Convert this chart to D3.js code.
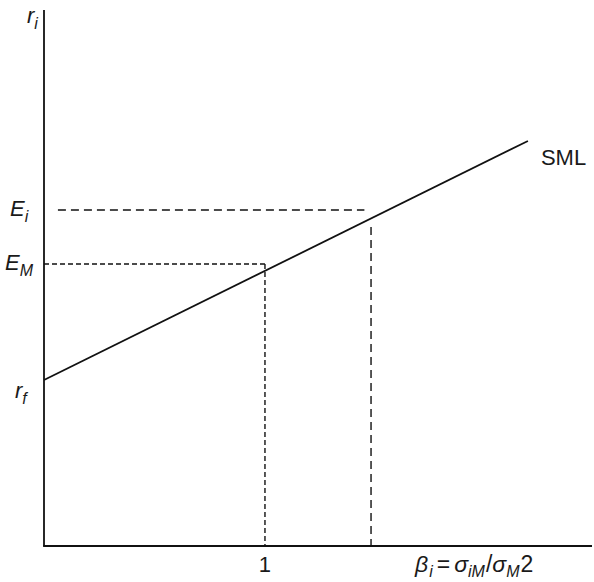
<!DOCTYPE html>
<html>
<head>
<meta charset="utf-8">
<script src="https://cdn.jsdelivr.net/npm/d3@7"></script>
<style>
  html, body { margin: 0; padding: 0; background: #fff; }
  svg text { font-family: "Liberation Sans", Arial, sans-serif; fill: #1a1a1a; }
</style>
</head>
<body>
<svg id="chart" width="594" height="582"></svg>
<script>
// Data (beta on x, expected return on y, arbitrary units)
const xDomain = [0, 2.48];
const yDomain = [0, 5.36];
const smlBeta = [0, 2.19];
const smlReturn = [1.66, 4.05];
const betaM = 1, returnM = 2.82;
const betaI = 1.48, returnI = 3.36;
const returnIVertTop = 3.19;
const returnIHorizStart = 0.063, returnIHorizEnd = 1.45;
const xTickLabels = ["1"];

const svg = d3.select("#chart");
const x = d3.scaleLinear().domain(xDomain).range([44, 592]);
const y = d3.scaleLinear().domain(yDomain).range([546, 10]);

// axes
svg.append("line").attr("x1", x(0)).attr("x2", x(0)).attr("y1", y(yDomain[1])).attr("y2", y(0))
  .attr("stroke", "#111").attr("stroke-width", 1.8);
svg.append("line").attr("x1", x(0) - 0.9).attr("x2", x(xDomain[1])).attr("y1", y(0)).attr("y2", y(0))
  .attr("stroke", "#111").attr("stroke-width", 1.8);

// SML line
const line = d3.line().x(d => x(d[0])).y(d => y(d[1]));
svg.append("path").datum(smlBeta.map((b, i) => [b, smlReturn[i]]))
  .attr("d", line).attr("fill", "none").attr("stroke", "#111").attr("stroke-width", 1.8);

// dashed guides
const dashes = [
  { x1: 0, y1: returnM, x2: betaM, y2: returnM, dash: "5,3" },
  { x1: betaM, y1: returnM, x2: betaM, y2: 0, dash: "5,3" },
  { x1: returnIHorizStart, y1: returnI, x2: returnIHorizEnd, y2: returnI, dash: "8,5" },
  { x1: betaI, y1: returnIVertTop, x2: betaI, y2: 0, dash: "8,5" }
];
svg.selectAll("line.dash").data(dashes).join("line").attr("class", "dash")
  .attr("x1", d => x(d.x1)).attr("y1", d => y(d.y1))
  .attr("x2", d => x(d.x2)).attr("y2", d => y(d.y2))
  .attr("stroke", "#111").attr("stroke-width", 1.4).attr("stroke-dasharray", d => d.dash);

// labels
const fs = 22, sub = 16;
function label(px, py, main, subText, anchor) {
  const t = svg.append("text").attr("x", px).attr("y", py).attr("font-size", fs)
    .attr("text-anchor", anchor || "start");
  t.append("tspan").attr("font-style", "italic").text(main);
  if (subText) t.append("tspan").attr("font-style", "italic").attr("font-size", sub).attr("dy", 6).text(subText);
  return t;
}
label(27, 23, "r", "i");
label(10, 216, "E", "i");
label(5, 270, "E", "M");
label(15, 398, "r", "f");

svg.selectAll("text.xtick").data(xTickLabels).join("text").attr("class", "xtick")
  .attr("x", d => x(+d)).attr("y", 572).attr("font-size", fs).attr("text-anchor", "middle").text(d => d);

svg.append("text").attr("x", x(smlBeta[1]) + 13).attr("y", 165).attr("font-size", fs).text("SML");

// beta label
const bfs = 23, bsub = 16;
const bt = svg.append("text").attr("x", 415).attr("y", 572).attr("font-size", bfs);
bt.append("tspan").attr("font-style", "italic").text("β");
bt.append("tspan").attr("font-style", "italic").attr("font-size", bsub).attr("dy", 5).attr("dx", 1).text("i");
bt.append("tspan").attr("dy", -5).attr("dx", 4).text("=");
bt.append("tspan").attr("font-style", "italic").attr("dx", 4).text("σ");
bt.append("tspan").attr("font-style", "italic").attr("font-size", bsub).attr("dy", 5).text("iM");
bt.append("tspan").attr("dy", -5).attr("dx", 1).text("/");
bt.append("tspan").attr("font-style", "italic").text("σ");
bt.append("tspan").attr("font-style", "italic").attr("font-size", bsub).attr("dy", 5).text("M");
bt.append("tspan").attr("dy", -5).attr("dx", 1).text("2");
</script>
</body>
</html>
